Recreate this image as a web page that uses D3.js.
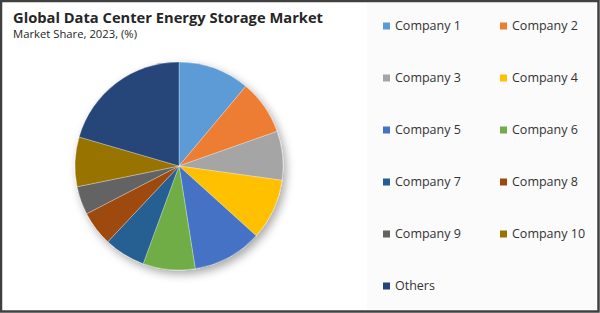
<!DOCTYPE html>
<html>
<head>
<meta charset="utf-8">
<script src="https://cdn.jsdelivr.net/npm/d3@7"></script>
<style>
  html, body { margin: 0; padding: 0; background: #fff; }
  svg { display: block; }
</style>
</head>
<body>
<svg id="chart" width="600" height="313"></svg>
<script>
// chart data
const companies = ['Company 1', 'Company 2', 'Company 3', 'Company 4', 'Company 5',
  'Company 6', 'Company 7', 'Company 8', 'Company 9', 'Company 10', 'Others'];
const shares = [11.1, 8.5, 7.6, 9.5, 10.8, 8.1, 6.4, 5.4, 4.4, 7.7, 20.5];
const colors = ['#5b9bd5', '#ed7d31', '#a5a5a5', '#ffc000', '#4472c4', '#70ad47',
  '#255e91', '#9e480e', '#636363', '#997300', '#264478'];

const titleText = 'Global Data Center Energy Storage Market';
const subtitleText = 'Market Share, 2023, (%)';

const W = 600, H = 313;
const svg = d3.select('#chart');
const font = '"Open Sans", "Noto Sans", sans-serif';

// outer frame
svg.append('rect')
  .attr('x', 1).attr('y', 1)
  .attr('width', W - 2.5).attr('height', H - 2.5)
  .attr('fill', '#fff')
  .attr('stroke', '#404040')
  .attr('stroke-width', 2.5);

// legend panel
svg.append('rect')
  .attr('x', 367).attr('y', 3)
  .attr('width', 229).attr('height', 306)
  .attr('fill', '#fbfbfb');

// title
svg.append('text')
  .attr('x', 13).attr('y', 23)
  .attr('font-family', font)
  .attr('font-weight', 'bold')
  .attr('font-size', 14.5)
  .attr('fill', '#262626')
  .attr('textLength', 310)
  .attr('lengthAdjust', 'spacingAndGlyphs')
  .text(titleText);

svg.append('text')
  .attr('x', 13).attr('y', 38)
  .attr('font-family', font)
  .attr('font-size', 11.5)
  .attr('fill', '#262626')
  .attr('textLength', 124)
  .attr('lengthAdjust', 'spacingAndGlyphs')
  .text(subtitleText);

// drop shadow for the pie
const defs = svg.append('defs');
const f = defs.append('filter').attr('id', 'pieShadow')
  .attr('x', '-20%').attr('y', '-20%').attr('width', '150%').attr('height', '150%');
f.append('feGaussianBlur').attr('in', 'SourceAlpha').attr('stdDeviation', 5).attr('result', 'blur');
f.append('feOffset').attr('in', 'blur').attr('dx', 3).attr('dy', 4).attr('result', 'off');
f.append('feComponentTransfer').attr('in', 'off').attr('result', 'soft')
  .append('feFuncA').attr('type', 'linear').attr('slope', 0.35);
const merge = f.append('feMerge');
merge.append('feMergeNode').attr('in', 'soft');
merge.append('feMergeNode').attr('in', 'SourceGraphic');

const cx = 179, cy = 166, radius = 104;

const pie = d3.pie().sort(null).value(d => d.value);
const arc = d3.arc().innerRadius(0).outerRadius(radius);
const data = companies.map((c, i) => ({ name: c, value: shares[i], color: colors[i] }));

const g = svg.append('g')
  .attr('transform', `translate(${cx},${cy})`)
  .attr('filter', 'url(#pieShadow)');

g.selectAll('path')
  .data(pie(data))
  .join('path')
  .attr('d', arc)
  .attr('fill', d => d.data.color)
  .attr('stroke', '#fff')
  .attr('stroke-width', 0.3);

// legend, two columns
const legX = [383, 500];
const legY0 = 26, legStep = 52;

const leg = svg.append('g').selectAll('g')
  .data(data)
  .join('g')
  .attr('transform', (d, i) => `translate(${legX[i % 2]},${legY0 + Math.floor(i / 2) * legStep})`);

leg.append('rect')
  .attr('x', 0).attr('y', -3.5)
  .attr('width', 7).attr('height', 7)
  .attr('fill', d => d.color);

leg.append('text')
  .attr('x', 12).attr('y', 0)
  .attr('dy', '0.35em')
  .attr('font-family', font)
  .attr('font-size', 12.5)
  .attr('fill', '#333')
  .text(d => d.name);
</script>
</body>
</html>
